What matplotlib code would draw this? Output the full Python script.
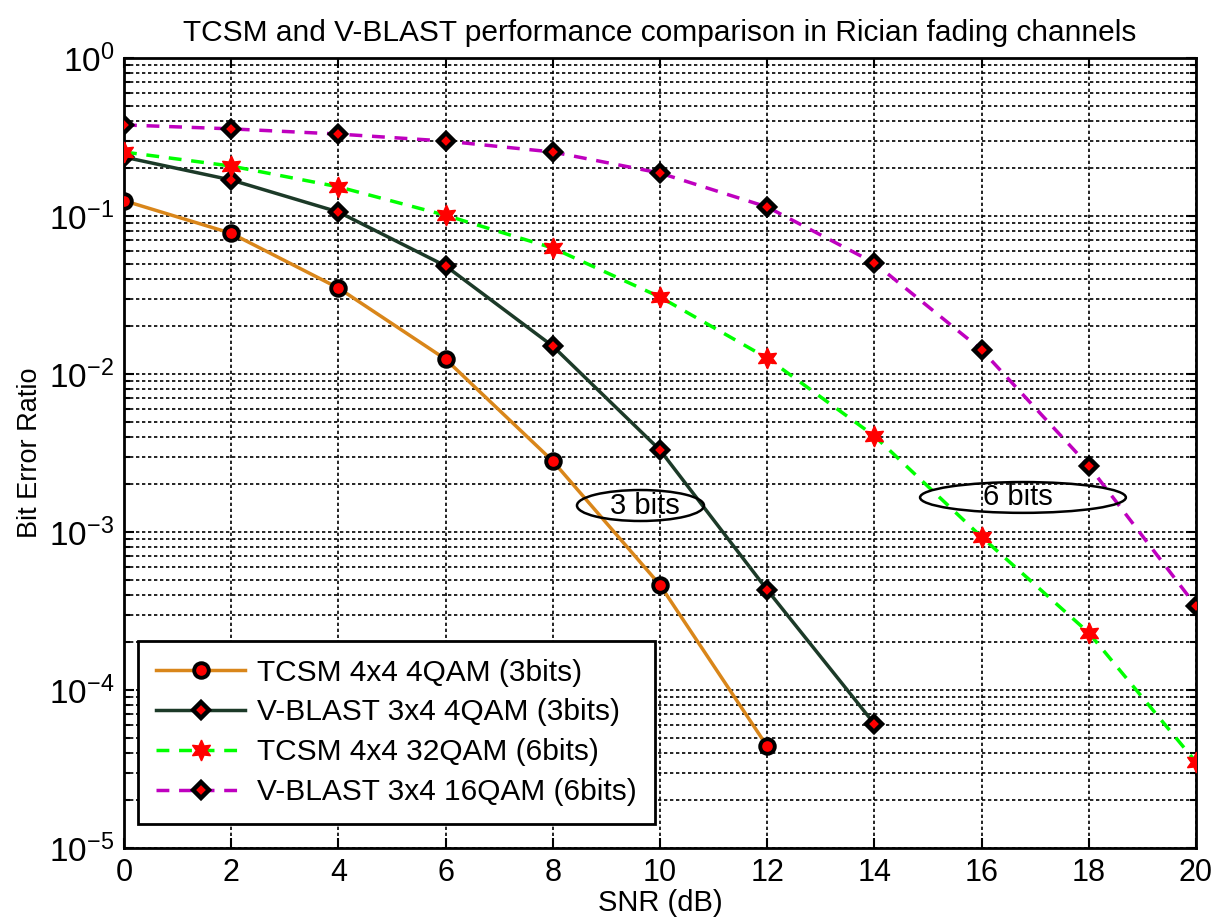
import matplotlib
matplotlib.use("Agg")
import matplotlib.pyplot as plt
from matplotlib.patches import Ellipse
from matplotlib.ticker import LogLocator, FixedLocator, NullFormatter

plt.rcParams['font.family'] = ['Liberation Sans', 'DejaVu Sans']
plt.rcParams['mathtext.fontset'] = 'custom'
plt.rcParams['mathtext.rm'] = 'Liberation Sans'
plt.rcParams['mathtext.it'] = 'Liberation Sans'
plt.rcParams['mathtext.default'] = 'regular'

snr = [0, 2, 4, 6, 8, 10, 12, 14, 16, 18, 20]
tcsm_4qam = [0.125, 0.0777, 0.035, 0.0124, 0.00281, 0.000462, 4.4e-5]
vblast_4qam = [0.236, 0.169, 0.106, 0.0483, 0.0150, 0.0033, 0.00043, 6.1e-5]
tcsm_32qam = [0.254, 0.207, 0.153, 0.101, 0.0627, 0.0307, 0.0126, 0.00405, 0.00093, 0.00023, 3.5e-5]
vblast_16qam = [0.377, 0.356, 0.330, 0.298, 0.254, 0.187, 0.114, 0.0504, 0.0142, 0.00262, 0.00034]

labels = ['TCSM 4x4 4QAM (3bits)', 'V-BLAST 3x4 4QAM (3bits)',
          'TCSM 4x4 32QAM (6bits)', 'V-BLAST 3x4 16QAM (6bits)']
yticks = [1e-5, 1e-4, 1e-3, 1e-2, 1e-1, 1]
ytick_labels = [r'$10^{-5}$', r'$10^{-4}$', r'$10^{-3}$', r'$10^{-2}$', r'$10^{-1}$', r'$10^{0}$']

fig = plt.figure(figsize=(12.11, 9.19), dpi=100)
ax = fig.add_axes([0.1024, 0.0773, 0.8852, 0.8596])

lw = 2.5
dash = (0, (3.7, 2.8))
ax.plot(snr[:len(tcsm_4qam)], tcsm_4qam, '-', color='#D9861A', lw=lw,
        marker='o', ms=10.5, mfc='red', mec='black', mew=2.8, label=labels[0], zorder=5)
ax.plot(snr[:len(vblast_4qam)], vblast_4qam, '-', color='#1C3A28', lw=lw,
        marker='D', ms=8, mfc='red', mec='black', mew=3.2, label=labels[1], zorder=5)
ax.plot(snr[:len(tcsm_32qam)], tcsm_32qam, linestyle=dash, color='#00FF00', lw=lw,
        marker=(6, 1, 0), ms=15, mfc='red', mec='red', mew=1, label=labels[2], zorder=6)
ax.plot(snr[:len(vblast_16qam)], vblast_16qam, linestyle=dash, color='#BF00BF', lw=lw,
        marker='D', ms=8, mfc='red', mec='black', mew=3.2, label=labels[3], zorder=5)

ax.set_yscale('log')
ax.set_xlim(0, 20)
ax.set_ylim(1e-5, 1)
ax.set_xticks(snr)
ax.yaxis.set_major_locator(FixedLocator(yticks))
ax.set_yticklabels(ytick_labels)
ax.yaxis.set_minor_locator(LogLocator(base=10, subs=range(2, 10), numticks=20))
ax.yaxis.set_minor_formatter(NullFormatter())

ax.grid(True, which='major', axis='both', color='black', linestyle=(0, (2, 1.6)), lw=1.2)
ax.grid(True, which='minor', axis='y', color='black', linestyle=(0, (2, 1.6)), lw=1.2)
ax.set_axisbelow(True)

ax.tick_params(which='both', direction='in', top=True, right=True, width=1.5)
ax.tick_params(axis='x', labelsize=22)
ax.tick_params(axis='y', labelsize=24)
ax.tick_params(which='major', length=7, pad=7)
ax.tick_params(which='minor', length=4)
for s in ax.spines.values():
    s.set_linewidth(2)

ax.set_title('TCSM and V-BLAST performance comparison in Rician fading channels', fontsize=21.5, pad=12)
ax.set_xlabel('SNR (dB)', fontsize=21, labelpad=1)
ax.set_ylabel('Bit Error Ratio', fontsize=19.5, labelpad=4)

ax.add_patch(Ellipse((0.4818, 0.4335), 0.1185, 0.0392, transform=ax.transAxes,
                     fill=False, ec='black', lw=1.8, zorder=7))
ax.text(0.486, 0.4335, '3 bits', transform=ax.transAxes, ha='center', va='center', fontsize=21, zorder=8)
ax.add_patch(Ellipse((0.8386, 0.4437), 0.192, 0.039, transform=ax.transAxes,
                     fill=False, ec='black', lw=1.8, zorder=7))
ax.text(0.834, 0.4437, '6 bits', transform=ax.transAxes, ha='center', va='center', fontsize=21, zorder=8)

leg = ax.legend(loc='lower left', bbox_to_anchor=(0.013, 0.03), borderaxespad=0, fontsize=21.5,
                handlelength=3.0, handletextpad=0.4, fancybox=False, framealpha=1,
                edgecolor='black', borderpad=0.6, labelspacing=0.4)
leg.get_frame().set_linewidth(2)
leg.set_zorder(10)

fig.savefig('out.png', dpi=100)
